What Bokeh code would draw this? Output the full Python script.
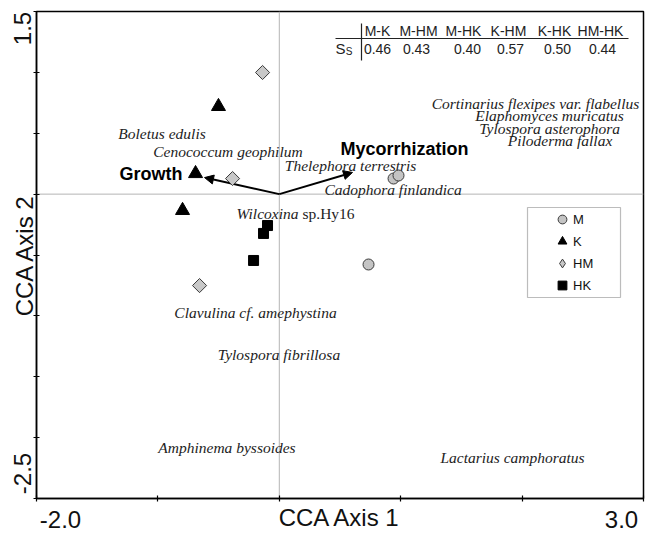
import math
from bokeh.plotting import figure
from bokeh.models import (Span, Arrow, NormalHead, Legend, LegendItem,
                          BoxAnnotation, FixedTicker, Range1d)
from bokeh.core.properties import value
from bokeh.embed import file_html
from bokeh.resources import INLINE

# ---------------- data ----------------
x_limits = [-2.0, 3.0]
y_limits = [-2.5, 1.5]
x_ticks = [-2, -1, 0, 1, 2, 3]
y_ticks = [1.5, 1.0, 0.5, 0.0, -0.5, -1.0, -1.5, -2.0, -2.5]
x_end_labels = ["-2.0", "3.0"]
y_end_labels = ["1.5", "-2.5"]

# sample scores by treatment
m_x = [0.941, 0.982, 0.735]
m_y = [0.128, 0.153, -0.578]
k_x = [-0.501, -0.690, -0.797]
k_y = [0.720, 0.169, -0.134]
hm_x = [-0.138, -0.385, -0.657]
hm_y = [0.999, 0.128, -0.751]
hk_x = [-0.097, -0.130, -0.212]
hk_y = [-0.258, -0.323, -0.545]

# environmental vectors
env_names = ["Growth", "Mycorrhization"]
env_x = [-0.616, 0.603]
env_y = [0.136, 0.178]

# species scores (label centres)
species_names = ["Boletus edulis", "Cenococcum geophilum", "Thelephora terrestris",
                 "Cadophora finlandica", "Cortinarius flexipes var. flabellus",
                 "Elaphomyces muricatus", "Tylospora asterophora", "Piloderma fallax",
                 "Clavulina cf. amephystina", "Tylospora fibrillosa",
                 "Amphinema byssoides", "Lactarius camphoratus"]
species_x = [-0.966, -0.423, 0.587, 0.937, 2.110, 2.226, 2.226, 2.312,
             -0.196, -0.003, -0.431, 1.921]
species_y = [0.498, 0.350, 0.235, 0.038, 0.744, 0.646, 0.539, 0.440,
             -0.972, -1.317, -2.081, -2.163]
wilcoxina_genus = "Wilcoxina"
wilcoxina_epithet = "sp.Hy16"
wilcoxina_x = 0.125
wilcoxina_y = -0.159

# similarity table
pair_labels = ["M-K", "M-HM", "M-HK", "K-HM", "K-HK", "HM-HK"]
ss_values = [0.46, 0.43, 0.40, 0.57, 0.50, 0.44]
legend_labels = ["M", "K", "HM", "HK"]

# ---------------- layout ----------------
W, H = 646, 534
B_LEFT, B_RIGHT, B_TOP, B_BOTTOM = 36, 3, 11, 36
FW = W - B_LEFT - B_RIGHT
FH = H - B_TOP - B_BOTTOM
XPP = FW / (x_limits[1] - x_limits[0])
YPP = FH / (y_limits[1] - y_limits[0])


def dx(px):   # page pixel -> data x (decorations only)
    return x_limits[0] + (px - B_LEFT) / XPP


def dy(py):   # page pixel -> data y (decorations only)
    return y_limits[1] - (py - B_TOP) / YPP


p = figure(width=W, height=H, x_range=Range1d(*x_limits), y_range=Range1d(*y_limits),
           output_backend="svg", toolbar_location=None,
           min_border_left=B_LEFT, min_border_right=B_RIGHT,
           min_border_top=B_TOP, min_border_bottom=B_BOTTOM)
p.xgrid.visible = False
p.ygrid.visible = False
p.outline_line_color = "black"
p.outline_line_width = 1.5
p.background_fill_color = "white"

# end labels sit just inside the frame corners, as in the original
x_label_pos = [x_limits[0] + 24 / XPP, x_limits[1] - 22 / XPP]
y_label_pos = [y_limits[1] - 17 / YPP, y_limits[0] + 25 / YPP]
p.xaxis.ticker = FixedTicker(ticks=x_label_pos, minor_ticks=x_ticks)
p.yaxis.ticker = FixedTicker(ticks=y_label_pos, minor_ticks=y_ticks)
p.xaxis.major_label_overrides = dict(zip(x_label_pos, x_end_labels))
p.yaxis.major_label_overrides = dict(zip(y_label_pos, y_end_labels))
p.yaxis.major_label_orientation = "vertical"

FONT_PX = 24
for ax in (p.xaxis[0], p.yaxis[0]):
    ax.axis_line_width = 1.5
    ax.axis_line_color = "black"
    ax.major_tick_in = 0
    ax.major_tick_out = 0
    ax.major_tick_line_color = None
    ax.minor_tick_in = 3
    ax.minor_tick_out = 3
    ax.minor_tick_line_color = "black"
    ax.minor_tick_line_width = 1.2
    ax.major_label_text_font = "Liberation Sans"
    ax.major_label_text_font_size = f"{FONT_PX}px"
    ax.major_label_text_color = "#111111"
    ax.axis_label_text_font = "Liberation Sans"
    ax.axis_label_text_font_style = "normal"
    ax.axis_label_text_font_size = f"{FONT_PX}px"
    ax.axis_label_text_color = "#111111"
    # the axis title shares the row/column of the end labels
    ax.axis_label_standoff = -27
p.xaxis.major_label_standoff = 9
p.yaxis.major_label_standoff = 3
p.xaxis.axis_label = "CCA Axis 1"
p.yaxis.axis_label = "CCA Axis 2"

# zero lines
p.add_layout(Span(location=0, dimension="height", line_color="#b5b5b5", line_width=1, level="underlay"))
p.add_layout(Span(location=0, dimension="width", line_color="#b5b5b5", line_width=1, level="underlay"))

# species labels
SPECIES_FONT = dict(text_font=value("Liberation Serif"), text_font_size="15.5px",
                    text_color="#222222", text_baseline="middle")
p.text(x=species_x, y=species_y, text=species_names, text_font_style="italic",
       text_align="center", **SPECIES_FONT)
p.text(x=[wilcoxina_x + 4 / XPP], y=[wilcoxina_y], text=[wilcoxina_genus],
       text_font_style="italic", text_align="right", **SPECIES_FONT)
p.text(x=[wilcoxina_x + 8 / XPP], y=[wilcoxina_y], text=[wilcoxina_epithet],
       text_font_style="normal", text_align="left", **SPECIES_FONT)

# environmental arrows
for ex, ey in zip(env_x, env_y):
    p.add_layout(Arrow(end=NormalHead(size=9, fill_color="black", line_color="black", line_width=1),
                       x_start=0, y_start=0, x_end=ex, y_end=ey,
                       line_color="black", line_width=2, level="underlay"))
ENV_FONT = dict(text_font=value("Liberation Sans"), text_font_style="bold",
                text_font_size="18px", text_color="black", text_baseline="middle")
p.text(x=[env_x[0] - 22 / XPP], y=[env_y[0] + 4 / YPP], text=[env_names[0]],
       text_align="right", **ENV_FONT)
p.text(x=[env_x[1] - 12 / XPP], y=[env_y[1] + 23 / YPP], text=[env_names[1]],
       text_align="left", **ENV_FONT)

# samples
M_STYLE = dict(fill_color="#c4c4c4", line_color="#3a3a3a", line_width=1)
HM_STYLE = dict(fill_color="#c8c8c8", line_color="#3a3a3a", line_width=1)
r_m = p.scatter(m_x, m_y, marker="circle", size=11, **M_STYLE)
r_k = p.scatter(k_x, k_y, marker="triangle", size=14, fill_color="black", line_color="black")
r_hm = p.scatter(hm_x, hm_y, marker="square", angle=math.pi / 4, size=10, **HM_STYLE)
r_hk = p.scatter(hk_x, hk_y, marker="square", size=10, fill_color="black", line_color="black")
# legend-only proxy for HM (the legend cannot rotate the square), draws nothing in the plot
r_hm_key = p.scatter([float("nan")], [float("nan")], marker="diamond", size=10, **HM_STYLE)

# legend box and key
p.add_layout(BoxAnnotation(left=dx(527), right=dx(620), top=dy(207), bottom=dy(297),
                           fill_color=None, line_color="#222222", line_width=1.2))
GLYPH = 22          # legend marker size = 0.4 * glyph box
legend = Legend(items=[LegendItem(label=lab, renderers=[r]) for lab, r in
                       zip(legend_labels, [r_m, r_k, r_hm_key, r_hk])],
                location=(562 - GLYPH / 2 - B_LEFT, H - B_BOTTOM - 252 - 2 * GLYPH),
                padding=0, margin=0, spacing=0,
                glyph_width=GLYPH, glyph_height=GLYPH, label_height=GLYPH,
                label_standoff=0,
                label_text_font="Liberation Sans", label_text_font_size="13px",
                label_text_color="#111111", border_line_color=None,
                background_fill_alpha=0)
p.add_layout(legend)

# similarity table
header_px = [377, 418, 463, 508, 554, 600]
value_px = [377, 416, 467, 510, 557, 602]
TABLE_FONT = dict(text_font=value("Liberation Sans"), text_color="#222222",
                  text_align="center", text_baseline="middle")
p.text(x=[dx(v) for v in header_px], y=[dy(30)] * len(pair_labels), text=pair_labels,
       text_font_size="14px", **TABLE_FONT)
p.text(x=[dx(v) for v in value_px], y=[dy(48)] * len(ss_values),
       text=[f"{v:.2f}" for v in ss_values], text_font_size="14px", **TABLE_FONT)
p.text(x=[dx(340)], y=[dy(48)], text=["S"], text_font_size="15px", **TABLE_FONT)
p.text(x=[dx(348.5)], y=[dy(51)], text=["S"], text_font_size="10px", **TABLE_FONT)
p.segment(x0=[dx(361), dx(335)], y0=[dy(23), dy(38)], x1=[dx(361), dx(628)], y1=[dy(60), dy(38)],
          line_color="#222222", line_width=1.2)

open("out.html", "w").write(file_html(p, INLINE))
